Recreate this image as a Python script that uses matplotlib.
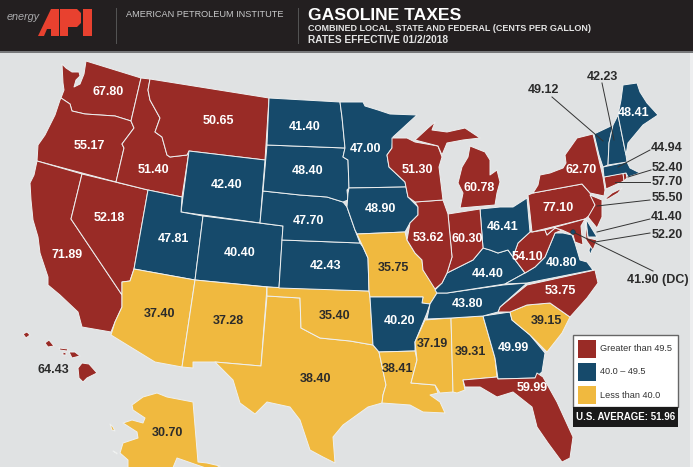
import matplotlib
matplotlib.use("Agg")
import matplotlib.pyplot as plt
from matplotlib.patches import Polygon, Rectangle, Circle

plt.rcParams['font.family'] = ['Liberation Sans', 'DejaVu Sans']

RED = '#992B26'
BLUE = '#164A6B'
YELLOW = '#F0B93F'
BG = '#E0E2E3'
DARK = '#231F20'

# state, tax, colour band (0 red, 1 blue, 2 yellow)
states = ['WA', 'OR', 'CA', 'NV', 'ID', 'MT', 'WY', 'UT', 'CO', 'AZ', 'NM', 'TX', 'OK', 'KS', 'NE', 'SD', 'ND',
          'MN', 'IA', 'MO', 'AR', 'LA', 'MS', 'AL', 'GA', 'FL', 'SC', 'NC', 'TN', 'KY', 'VA', 'WV', 'OH', 'IN',
          'IL', 'WI', 'MI', 'PA', 'NY', 'NJ', 'DE', 'MD', 'CT', 'RI', 'MA', 'VT', 'NH', 'ME', 'HI', 'AK']
taxes = [67.80, 55.17, 71.89, 52.18, 51.40, 50.65, 42.40, 47.81, 40.40, 37.40, 37.28, 38.40, 35.40, 42.43, 47.70,
         48.40, 41.40, 47.00, 48.90, 35.75, 40.20, 38.41, 37.19, 39.31, 49.99, 59.99, 39.15, 53.75, 43.80, 44.40,
         40.80, 54.10, 46.41, 60.30, 53.62, 51.30, 60.78, 77.10, 62.70, 55.50, 41.40, 52.20, 57.70, 52.40, 44.94,
         49.12, 42.23, 48.41, 64.43, 30.70]
bands = [0, 0, 0, 0, 0, 0, 1, 1, 1, 2, 2, 2, 2, 1, 1,
         1, 1, 1, 1, 2, 1, 2, 2, 2, 1, 0, 2, 0, 1, 1,
         1, 0, 1, 0, 0, 0, 0, 0, 0, 0, 1, 0, 0, 0, 1,
         1, 1, 1, 0, 2]
dc_tax = 41.90
us_average = 51.96

# where the number sits on the state
label_x = [108, 89, 67, 109, 153, 218, 227, 173, 240, 160, 228, 316, 335, 326, 308,
           308, 305, 366, 380, 393, 399, 398, 432, 470, 513, 532, 546, 560, 468, 488,
           561, 527, 503, 467, 428, 417, 479, 558, 581, None, None, None, None, None, None,
           None, None, 634, 53, 167]
label_y = [92, 146, 255, 218, 170, 121, 185, 239, 253, 314, 321, 379, 316, 266, 221,
           171, 127, 149, 209, 268, 321, 369, 344, 352, 348, 388, 321, 291, 304, 274,
           263, 257, 227, 239, 238, 170, 188, 208, 170, None, None, None, None, None, None,
           None, None, 113, 370, 433]

# outlines in picture pixels
outlines = {
    'WA': [(62, 64), (66, 68), (72, 72), (79, 72), (80, 76), (76, 80), (74, 87), (80, 84), (84, 74), (86, 61),
           (141, 78), (131, 121), (115, 116), (100, 115), (85, 114), (72, 111), (70, 104), (61, 98), (64, 90),
           (63, 83)],
    'OR': [(61, 98), (70, 104), (72, 111), (85, 114), (100, 115), (115, 116), (131, 121), (134, 128), (122, 144),
           (124, 148), (116, 182), (37, 161), (38, 145), (45, 135), (55, 115), (60, 100)],
    'CA': [(37, 161), (82, 174), (71, 219), (118, 289), (122, 295), (122, 307), (115, 322), (111, 332), (82, 327),
           (78, 312), (60, 295), (48, 285), (48, 277), (40, 253), (38, 237), (33, 220), (31, 200), (30, 183),
           (34, 175)],
    'NV': [(82, 174), (148, 190), (134, 269), (130, 281), (122, 282), (122, 295), (118, 289), (71, 219)],
    'ID': [(141, 78), (150, 79), (148, 90), (150, 100), (160, 118), (155, 132), (162, 137), (167, 155), (170, 157),
           (187, 155), (189, 151), (182, 197), (148, 190), (116, 182), (124, 148), (122, 144), (134, 128),
           (131, 121)],
    'MT': [(150, 79), (269, 98), (265, 160), (189, 151), (187, 155), (170, 157), (167, 155), (162, 137), (155, 132),
           (160, 118), (150, 100), (148, 90)],
    'WY': [(189, 151), (265, 160), (260, 223), (181, 212)],
    'UT': [(148, 190), (182, 197), (181, 212), (203, 216), (195, 280), (134, 269)],
    'CO': [(203, 216), (283, 226), (279, 288), (195, 280)],
    'AZ': [(134, 269), (195, 280), (182, 367), (155, 362), (111, 335), (115, 322), (122, 307), (122, 295),
           (122, 282), (130, 281)],
    'NM': [(195, 280), (267, 287), (261, 366), (215, 362), (193, 362), (193, 368), (182, 367)],
    'TX': [(267, 296), (300, 298), (301, 328), (320, 338), (350, 341), (373, 345), (379, 352), (386, 385), (383, 395),
           (382, 403), (368, 407), (343, 425), (333, 437), (335, 463), (323, 457), (310, 450), (300, 420),
           (290, 407), (267, 402), (255, 414), (240, 403), (233, 380), (215, 362), (261, 366)],
    'OK': [(267, 287), (369, 291), (370, 297), (373, 345), (350, 341), (320, 338), (301, 328), (300, 298),
           (267, 296)],
    'KS': [(282, 240), (360, 243), (363, 247), (368, 258), (369, 291), (279, 288)],
    'NE': [(263, 191), (300, 195), (327, 197), (343, 202), (347, 207), (355, 230), (360, 243), (282, 240), (283, 226),
           (260, 223)],
    'SD': [(267, 145), (345, 148), (343, 157), (348, 160), (349, 188), (347, 190), (348, 200), (343, 202), (327, 197),
           (300, 195), (263, 191)],
    'ND': [(269, 98), (340, 102), (342, 117), (345, 148), (267, 145)],
    'MN': [(340, 102), (363, 102), (365, 106), (378, 110), (390, 114), (417, 115), (393, 137), (392, 148), (387, 155),
           (389, 167), (405, 182), (406, 187), (349, 188), (348, 160), (343, 157), (345, 148), (342, 117)],
    'IA': [(349, 188), (406, 187), (408, 197), (418, 207), (418, 215), (410, 223), (405, 232), (357, 234), (355, 230),
           (347, 207), (348, 193)],
    'MO': [(357, 234), (405, 232), (407, 240), (415, 253), (422, 260), (423, 270), (433, 283), (437, 293), (430, 304),
           (422, 303), (423, 297), (370, 297), (369, 291), (368, 258), (363, 247)],
    'AR': [(370, 297), (423, 297), (422, 303), (430, 304), (427, 313), (415, 342), (415, 351), (379, 352), (373, 345)],
    'LA': [(379, 352), (415, 351), (417, 360), (411, 383), (435, 385), (438, 393), (430, 395), (440, 402), (445, 413),
           (423, 412), (410, 405), (382, 403), (383, 395), (386, 385)],
    'MS': [(425, 320), (451, 318), (453, 387), (453, 392), (440, 393), (435, 385), (411, 383), (417, 360), (415, 342)],
    'AL': [(451, 318), (483, 316), (495, 358), (497, 377), (463, 380), (465, 390), (457, 393), (453, 392)],
    'GA': [(483, 316), (510, 312), (512, 320), (530, 335), (545, 353), (542, 372), (535, 378), (498, 379), (495, 358)],
    'FL': [(463, 380), (497, 377), (498, 379), (535, 378), (537, 373), (543, 377), (557, 402), (573, 437), (570, 458),
           (562, 462), (548, 443), (537, 427), (532, 407), (513, 392), (497, 397), (480, 387), (465, 387)],
    'SC': [(510, 312), (527, 305), (550, 303), (570, 317), (562, 333), (547, 352), (530, 335), (512, 320)],
    'NC': [(498, 312), (500, 307), (527, 285), (595, 270), (598, 283), (587, 298), (570, 317), (550, 303), (527, 305),
           (510, 312)],
    'TN': [(437, 293), (447, 293), (503, 285), (527, 283), (500, 307), (498, 312), (483, 316), (451, 318), (427, 319),
           (430, 304)],
    'KY': [(437, 293), (435, 290), (442, 283), (447, 273), (453, 270), (473, 260), (483, 248), (490, 250), (498, 253),
           (508, 250), (513, 257), (525, 273), (505, 284), (447, 293)],
    'VA': [(505, 284), (525, 273), (535, 267), (545, 257), (555, 233), (563, 233), (572, 235), (575, 243), (580, 260),
           (587, 262), (593, 270), (527, 283)],
    'WV': [(513, 257), (518, 243), (530, 232), (532, 232), (545, 230), (547, 235), (555, 228), (562, 230), (555, 233),
           (545, 257), (535, 267), (525, 273)],
    'OH': [(480, 209), (500, 207), (513, 207), (527, 198), (530, 232), (518, 243), (513, 257), (508, 250), (498, 253),
           (490, 250), (483, 248)],
    'IN': [(448, 214), (480, 209), (483, 248), (473, 260), (453, 270), (447, 273), (452, 257)],
    'IL': [(415, 202), (443, 200), (448, 214), (452, 257), (447, 273), (442, 283), (435, 289), (423, 270), (422, 260),
           (415, 253), (407, 240), (410, 223), (418, 215), (418, 207)],
    'WI': [(392, 138), (407, 138), (415, 142), (438, 146), (442, 157), (439, 167), (443, 200), (415, 202), (408, 197),
           (405, 182), (389, 167), (387, 155), (392, 148)],
    'MI': [(415, 140), (428, 128), (435, 122), (432, 130), (447, 132), (465, 128), (480, 138), (463, 140), (447, 143),
           (442, 155), (438, 146)],
    'PA': [(528, 195), (533, 193), (582, 184), (590, 193), (595, 205), (590, 215), (585, 219), (532, 232)],
    'NY': [(593, 134), (603, 177), (605, 190), (604, 196), (590, 193), (582, 184), (533, 193), (538, 185), (540, 175),
           (550, 173), (563, 168), (566, 163), (565, 155), (577, 138)],
    'NJ': [(590, 195), (602, 200), (602, 217), (597, 228), (588, 217), (595, 205)],
    'DE': [(586, 219), (597, 237), (588, 237)],
    'MD': [(545, 230), (585, 219), (581, 226), (582, 237), (583, 245), (575, 242), (573, 235), (562, 230), (555, 228),
           (547, 235)],
    'CT': [(604, 177), (623, 173), (624, 181), (606, 189)],
    'RI': [(623, 173), (626, 173), (627, 178), (624, 181)],
    'MA': [(603, 167), (627, 162), (630, 168), (640, 173), (628, 177), (626, 173), (604, 177)],
    'VT': [(594, 134), (613, 125), (609, 143), (608, 165), (603, 167), (599, 155)],
    'NH': [(613, 125), (618, 115), (626, 155), (627, 162), (608, 165), (609, 143)],
    'ME': [(618, 115), (621, 100), (623, 85), (637, 83), (640, 92), (647, 103), (658, 115), (643, 125), (628, 143),
           (626, 155)],
    'HI': [(78, 368), (82, 363), (89, 364), (97, 373), (87, 378), (83, 382), (79, 378)],
    'AK': [(132, 405), (143, 397), (157, 393), (167, 397), (193, 402), (198, 462), (207, 463), (220, 466), (212, 470),
           (200, 466), (177, 458), (172, 470), (128, 470), (128, 460), (120, 453), (123, 443), (138, 438), (137, 432),
           (123, 423), (132, 420), (143, 423), (145, 418), (133, 410)],
}
# bits that belong to a state but are not joined to it
extra_parts = {
    'HI': [[(23, 334), (27, 332), (30, 335), (26, 338)], [(45, 343), (49, 340), (54, 346), (48, 347)],
           [(59, 348), (68, 349), (67, 351), (60, 350)], [(69, 352), (75, 352), (80, 356), (72, 358)],
           [(63, 352), (66, 353), (66, 355), (63, 355)]],
    'AK': [[(110, 424), (113, 427), (115, 431), (112, 430)], [(113, 451), (117, 453), (117, 454)]],
    'MI': [[(470, 146), (485, 152), (490, 160), (490, 175), (497, 170), (500, 182), (497, 193), (495, 205), (460, 208),
            (463, 193), (458, 183), (462, 167), (468, 157)]],
    'NY': [[(605, 199), (612, 193), (622, 188), (618, 193), (608, 199)]],
    'MD': [[(585, 219), (588, 238), (597, 240), (593, 250), (586, 240)]],
    'VA': [[(592, 243), (595, 243), (590, 255), (589, 250)]],
}

# numbers kept outside the map, with a leader line
outside_names = ['VT', 'NH', 'MA', 'RI', 'CT', 'NJ', 'DE', 'MD']
outside_text_x = [543, 602, 667, 667, 667, 667, 667, 667]
outside_text_y = [90, 77, 148, 168, 182, 198, 217, 235]
leader_x0 = [552, 602, 650, 651, 650, 650, 650, 650]
leader_y0 = [97, 83, 150, 170, 182, 200, 219, 233]
leader_x1 = [603, 614, 618, 628, 615, 597, 597, 595]
leader_y1 = [141, 140, 167, 177, 182, 206, 232, 242]

legend_labels = ['Greater than 49.5', '40.0 \u2013 49.5', 'Less than 40.0']

fig = plt.figure(figsize=(6.93, 4.67), dpi=100, facecolor=BG)
ax = fig.add_axes([0, 0, 1, 1])
ax.set_xlim(0, 693)
ax.set_ylim(467, 0)
ax.axis('off')

colors = [RED, BLUE, YELLOW]
ax.add_patch(Rectangle((690, 0), 3, 467, fc='#EDEEEF', ec='none'))

for i, st in enumerate(states):
    c = colors[bands[i]]
    for pts in [outlines[st]] + extra_parts.get(st, []):
        ax.add_patch(Polygon(pts, closed=True, fc=c, ec='#EEF0F0', lw=0.7, joinstyle='round', zorder=2))
    if label_x[i] is not None:
        tc = '#2B2B2B' if bands[i] == 2 or st == 'HI' else 'white'
        ax.text(label_x[i], label_y[i], '%.2f' % taxes[i], color=tc, fontsize=9, fontweight='bold',
                ha='center', va='center', zorder=5)

# leaders and the numbers on the right
for i, st in enumerate(outside_names):
    ax.plot([leader_x0[i], leader_x1[i]], [leader_y0[i], leader_y1[i]], color='#333333', lw=0.7, zorder=4)
    ax.text(outside_text_x[i], outside_text_y[i], '%.2f' % taxes[states.index(st)], color='#2B2B2B', fontsize=9,
            fontweight='bold', ha='center', va='center', zorder=5)

# DC
ax.plot([653, 573], [271, 232], color='#333333', lw=0.7, zorder=4)
ax.add_patch(Circle((573, 232), 2.3, fc=BLUE, ec='#333333', lw=0.5, zorder=4))
ax.text(658, 280, '%.2f (DC)' % dc_tax, color='#2B2B2B', fontsize=9, fontweight='bold', ha='center', va='center',
        zorder=5)

# header
ax.add_patch(Rectangle((0, 0), 693, 51, fc=DARK, ec='none', zorder=6))
ax.add_patch(Rectangle((0, 51), 693, 2, fc='#77787A', ec='none', zorder=6))
ax.plot([115.5, 115.5], [8, 43], color='#555555', lw=0.7, zorder=8)
ax.plot([297.5, 297.5], [8, 43], color='#555555', lw=0.7, zorder=7)
logo_red = '#E8412F'
ax.add_patch(Polygon([(38, 36), (51, 9), (59, 9), (59, 36), (51, 36), (51, 29), (47, 29), (44, 36)], fc=logo_red,
                     ec='none', zorder=7))
ax.add_patch(Polygon([(60, 9), (77, 9), (81, 13), (81, 23), (77, 27), (68, 27), (68, 36), (60, 36)], fc=logo_red,
                     ec='none', zorder=7))
ax.add_patch(Rectangle((83, 9), 9, 27, fc=logo_red, ec='none', zorder=7))
ax.text(6.5, 17.5, 'energy', color='#A9AAAC', fontsize=7.8, style='italic', va='center', zorder=7)
ax.text(126, 14.5, 'AMERICAN PETROLEUM INSTITUTE', color='#C8C9CA', fontsize=6.6, va='center', zorder=7)
ax.text(308, 15, 'GASOLINE TAXES', color='white', fontsize=12.6, fontweight='bold', va='center', zorder=7)
ax.text(308, 28.5, 'COMBINED LOCAL, STATE AND FEDERAL (CENTS PER GALLON)', color='#E4E4E4', fontsize=6.5,
        fontweight='bold', va='center', zorder=7)
ax.text(308, 40, 'RATES EFFECTIVE 01/2/2018', color='#E4E4E4', fontsize=7.3, fontweight='bold', va='center', zorder=7)

# legend box
ax.add_patch(Rectangle((573, 335), 105, 72, fc='white', ec='#666666', lw=1, zorder=6))
ax.add_patch(Rectangle((573, 407), 105, 20, fc='#1A1A1A', ec='none', zorder=6))
for i, lab in enumerate(legend_labels):
    ax.add_patch(Rectangle((578, 340 + 23 * i), 18, 17.5, fc=colors[i], ec='none', zorder=7))
    ax.text(599.5, 348.5 + 23.5 * i, lab, color='#333333', fontsize=6.6, va='center', zorder=7)
ax.text(625.5, 417, 'U.S. AVERAGE: %.2f' % us_average, color='white', fontsize=7, fontweight='bold', ha='center',
        va='center', zorder=7)

fig.savefig('out.png', dpi=100, facecolor=BG)
